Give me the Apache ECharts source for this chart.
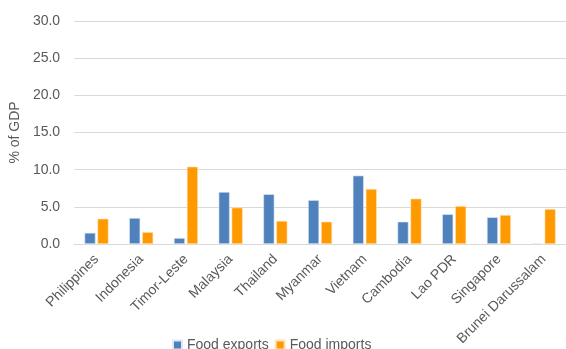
<!DOCTYPE html>
<html>
<head>
<meta charset="utf-8">
<script src="https://cdn.jsdelivr.net/npm/echarts@6/dist/echarts.min.js"></script>
<style>
  html, body { margin: 0; padding: 0; background: #fff; }
  #chart { width: 566px; height: 349px; }
</style>
</head>
<body>
<div id="chart"></div>
<script>
// countries along the x axis
const countries = ["Philippines", "Indonesia", "Timor-Leste", "Malaysia", "Thailand",
  "Myanmar", "Vietnam", "Cambodia", "Lao PDR", "Singapore", "Brunei Darussalam"];
// % of GDP
const foodExports = [1.5, 3.5, 0.8, 7.0, 6.7, 5.9, 9.2, 3.0, 4.0, 3.6, 0.05];
const foodImports = [3.4, 1.6, 10.4, 4.9, 3.1, 3.0, 7.4, 6.1, 5.1, 3.9, 4.7];

const textColor = "#595959";
const font = "'Liberation Sans', Arial, sans-serif";

const chart = echarts.init(document.getElementById("chart"));
chart.setOption({
  animation: false,
  grid: { left: 74, right: 0, top: 21, bottom: 105 },
  legend: {
    bottom: -8,
    left: 167,
    itemWidth: 9,
    itemHeight: 9,
    itemGap: 6,
    icon: "rect",
    textStyle: { color: textColor, fontSize: 14, fontFamily: font },
    data: ["Food exports", "Food imports"],
  },
  xAxis: {
    type: "category",
    data: countries,
    axisTick: { show: false },
    axisLine: { lineStyle: { color: "#d9d9d9" } },
    axisLabel: {
      rotate: 45,
      interval: 0,
      color: textColor,
      fontSize: 14,
      fontFamily: font,
      margin: 13,
    },
  },
  yAxis: {
    type: "value",
    min: 0,
    max: 30,
    interval: 5,
    name: "% of GDP",
    nameLocation: "middle",
    nameGap: 49,
    nameTextStyle: { color: textColor, fontSize: 14, fontFamily: font },
    axisLine: { show: false },
    axisTick: { show: false },
    splitLine: { lineStyle: { color: "#d9d9d9" } },
    axisLabel: {
      color: textColor,
      fontSize: 14,
      fontFamily: font,
      margin: 14,
      formatter: (v) => v.toFixed(1),
    },
  },
  series: [
    {
      name: "Food exports",
      type: "bar",
      data: foodExports,
      barWidth: 11,
      barGap: "18%",
      itemStyle: { color: "#4f81bd", borderColor: "#dfe8f3", borderWidth: 0.6 },
    },
    {
      name: "Food imports",
      type: "bar",
      data: foodImports,
      barWidth: 11,
      barGap: "18%",
      itemStyle: { color: "#ff9900", borderColor: "#ffe3b8", borderWidth: 0.6 },
    },
  ],
});
</script>
</body>
</html>
